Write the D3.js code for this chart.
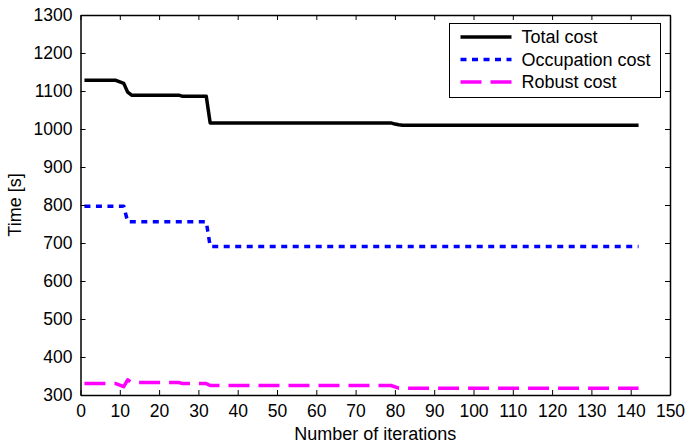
<!DOCTYPE html>
<html>
<head>
<meta charset="utf-8">
<script src="https://cdn.jsdelivr.net/npm/d3@7"></script>
<style>
  body { margin: 0; background: #fff; }
  svg text { font-family: "Liberation Sans", Arial, Helvetica, sans-serif; fill: #000; }
</style>
</head>
<body>
<div id="chart"></div>
<script>
// breakpoints (iteration, seconds)
const totalIter = [1, 9, 10, 11, 12, 13, 25, 26, 32, 33, 79, 80, 81, 82, 142];
const totalCost = [1128, 1128, 1124, 1120, 1097, 1089, 1089, 1086, 1086, 1016, 1016, 1013, 1011, 1010, 1010];

const occIter = [1, 11, 12, 32, 33, 142];
const occCost = [797, 797, 756, 756, 691, 691];

const robIter = [1, 9, 10, 11, 12, 13, 25, 26, 32, 33, 79, 81, 142];
const robCost = [330, 330, 326, 322, 340, 333, 333, 330, 330, 325, 325, 318, 318];

const xTicks = d3.range(0, 151, 10);
const yTicks = d3.range(300, 1301, 100);

const series = [
  { name: "Total cost", x: totalIter, y: totalCost, color: "#000000", dash: null },
  { name: "Occupation cost", x: occIter, y: occCost, color: "#0000ff", dash: "6,5.5" },
  { name: "Robust cost", x: robIter, y: robCost, color: "#ff00ff", dash: "21,9" }
];

const W = 686, H = 443;
const margin = { top: 15, right: 16, bottom: 48, left: 80.5 };

const svg = d3.select("#chart").append("svg")
    .attr("width", W)
    .attr("height", H);

const x = d3.scaleLinear().domain([0, 150]).range([margin.left, W - margin.right]);
const y = d3.scaleLinear().domain([300, 1300]).range([H - margin.bottom, margin.top]);

// lines
const line = d3.line().x(d => x(d[0])).y(d => y(d[1]));
svg.append("g").selectAll("path")
    .data(series)
    .join("path")
    .attr("d", s => line(s.x.map((v, i) => [v, s.y[i]])))
    .style("fill", "none")
    .style("stroke", s => s.color)
    .style("stroke-width", 3.5)
    .style("stroke-linejoin", "round")
    .style("stroke-dasharray", s => s.dash);

// axes (MATLAB style box, ticks inward on all sides)
const tl = 5;
const fs = "17.5px";
svg.append("g")
    .attr("transform", `translate(0,${y(300)})`)
    .call(d3.axisBottom(x).tickValues(xTicks).tickSizeInner(-tl).tickSizeOuter(0).tickPadding(10))
    .call(g => g.selectAll("text").style("font-size", fs));
svg.append("g")
    .attr("transform", `translate(${x(0)},0)`)
    .call(d3.axisLeft(y).tickValues(yTicks).tickFormat(d3.format("d"))
        .tickSizeInner(-tl).tickSizeOuter(0).tickPadding(8))
    .call(g => g.selectAll("text").style("font-size", fs));
svg.append("g")
    .attr("transform", `translate(0,${y(1300)})`)
    .call(d3.axisTop(x).tickValues(xTicks).tickSizeInner(-tl).tickSizeOuter(0).tickFormat(""));
svg.append("g")
    .attr("transform", `translate(${x(150)},0)`)
    .call(d3.axisRight(y).tickValues(yTicks).tickSizeInner(-tl).tickSizeOuter(0).tickFormat(""));
svg.selectAll(".domain").style("stroke", "#000").style("stroke-width", 1.5);
svg.selectAll(".tick line").style("stroke", "#000").style("stroke-width", 1);

// axis labels
svg.append("text")
    .attr("x", x(75)).attr("y", 440)
    .attr("text-anchor", "middle")
    .style("font-size", "18px")
    .text("Number of iterations");
svg.append("text")
    .attr("transform", `translate(21,${y(800)}) rotate(-90)`)
    .attr("text-anchor", "middle")
    .style("font-size", "18px")
    .text("Time [s]");

// legend
const lg = svg.append("g").attr("transform", "translate(449.5,23.5)");
lg.append("rect")
    .attr("width", 211).attr("height", 74)
    .style("fill", "#fff").style("stroke", "#000").style("stroke-width", 1);
const items = lg.selectAll(".item")
    .data(series)
    .join("g")
    .attr("class", "item")
    .attr("transform", (d, i) => `translate(0,${13.5 + i * 22.5})`);
items.append("line")
    .attr("x1", 11).attr("x2", 62)
    .style("stroke", d => d.color)
    .style("stroke-width", 3.5)
    .style("stroke-dasharray", d => d.dash);
items.append("text")
    .attr("x", 72).attr("dy", "0.35em")
    .style("font-size", "18px")
    .text(d => d.name);
</script>
</body>
</html>
